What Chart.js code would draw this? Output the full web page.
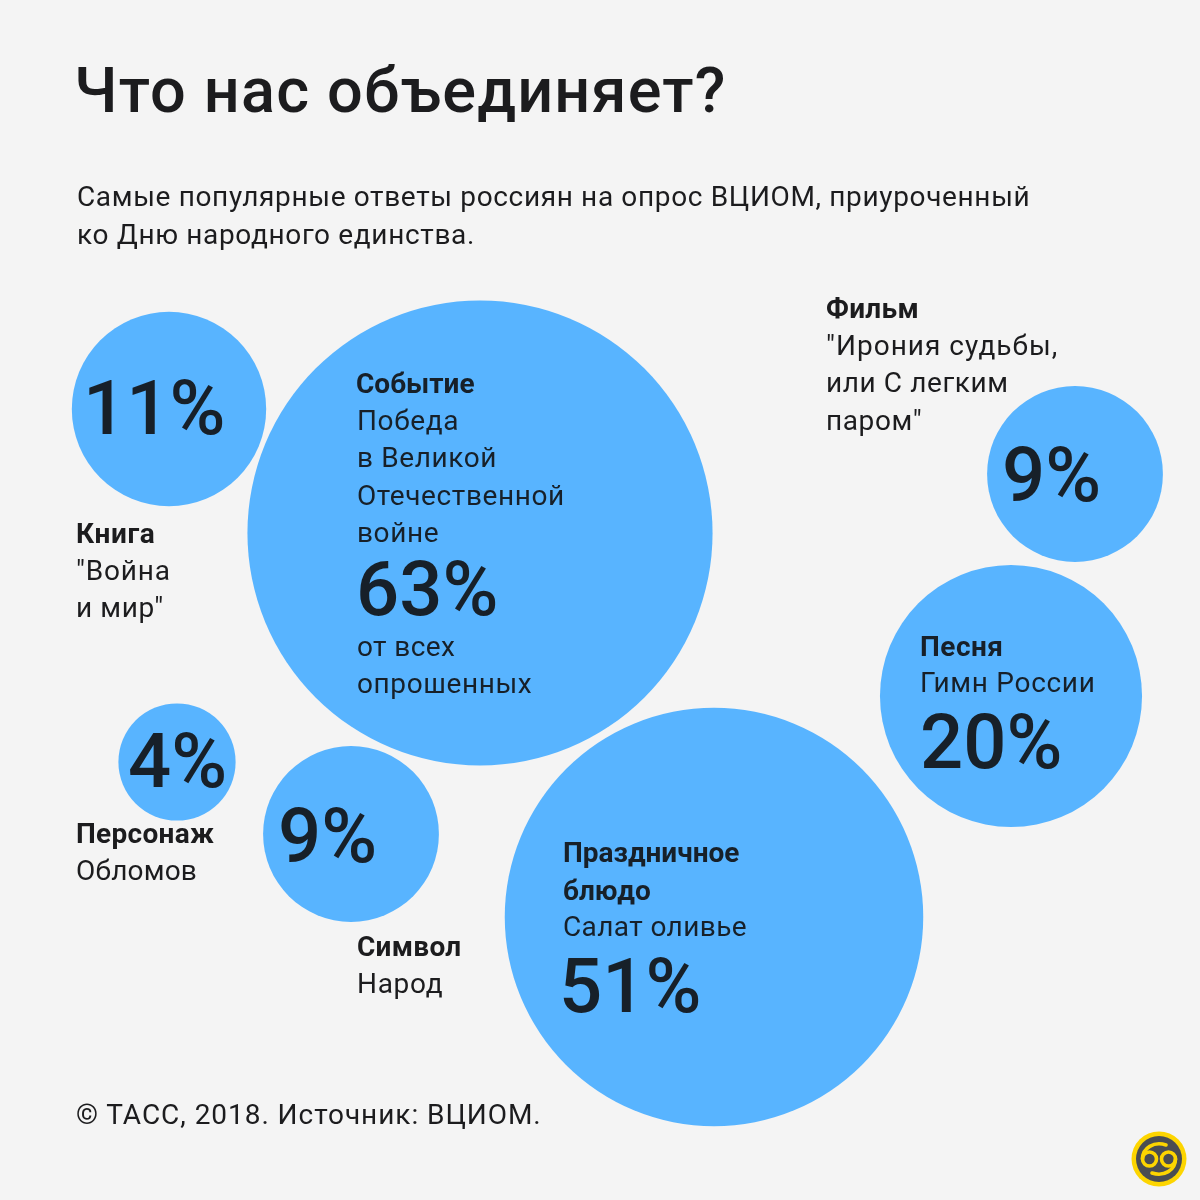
<!DOCTYPE html>
<html lang="ru">
<head>
<meta charset="utf-8">
<title>Что нас объединяет?</title>
<script src="https://cdn.jsdelivr.net/npm/chart.js@4"></script>
<style>
  html, body { margin: 0; padding: 0; background: #f4f4f4; }
  #wrap { position: relative; width: 1200px; height: 1200px; overflow: hidden; }
  #chart { position: absolute; left: 0; top: 0; }
  .t { position: absolute; white-space: pre; line-height: 0; color: #172029; font-family: Roboto, sans-serif; }
  #logo { position: absolute; left: 1130px; top: 1130px; }
</style>
</head>
<body>
<div id="wrap">
  <canvas id="chart" width="1200" height="1200"></canvas>
  <svg id="logo" width="58" height="58" viewBox="0 0 58 58">
    <circle cx="29" cy="29" r="27.5" fill="#fdd500"/>
    <circle cx="29" cy="29" r="23" fill="#4a4d52"/>
    <g fill="none" stroke="#fdd500" stroke-width="3.6" stroke-linecap="round">
      <circle cx="19.5" cy="29" r="7"/>
      <circle cx="38.5" cy="29" r="7"/>
      <path d="M12.5 29 C12.5 18 24 11 36 15"/>
      <path d="M45.5 29 C45.5 40 34 47 22 43"/>
    </g>
  </svg>
</div>
<script>
// categories and answers from the poll
const categories = ["Событие", "Блюдо", "Песня", "Книга", "Фильм", "Символ", "Персонаж"];
const values = [63, 51, 20, 11, 9, 9, 4];

// where each bubble sits on the 0-1200 page axes
const bubbleX = [480, 714, 1011, 169, 1075, 351, 177];
const bubbleY = [533, 917, 696, 409, 474, 834, 762];

const percentLabels = values.map(v => v + "%");

const BUBBLE_COLOR = "#58b4ff";
const AREA_K = 29.3; // radius grows with sqrt of the percent

const points = values.map((v, i) => ({
  x: bubbleX[i],
  y: bubbleY[i],
  r: Math.sqrt(v) * AREA_K
}));

new Chart(document.getElementById("chart"), {
  type: "bubble",
  data: {
    labels: categories,
    datasets: [{
      data: points,
      backgroundColor: BUBBLE_COLOR,
      hoverBackgroundColor: BUBBLE_COLOR,
      borderWidth: 0,
      hoverBorderWidth: 0,
      clip: false
    }]
  },
  options: {
    responsive: false,
    animation: false,
    events: [],
    layout: { padding: 0, autoPadding: false },
    plugins: { legend: { display: false }, tooltip: { enabled: false } },
    scales: {
      x: { type: "linear", min: 0, max: 1200, display: false },
      y: { type: "linear", min: 0, max: 1200, reverse: true, display: false }
    }
  }
});

const INK = "#1c1c1e"; // text outside the bubbles is closer to black

// text, x, baseline, size, weight, letter spacing, colour
const texts = [
  ["Что нас объединяет?", 74, 113, 63, 500, 1.2, INK],
  ["Самые популярные ответы россиян на опрос ВЦИОМ, приуроченный", 77, 207, 28, 400, 0.65, INK],
  ["ко Дню народного единства.", 77, 245, 28, 400, 0.65, INK],

  [percentLabels[3], 83, 434, 76, 500, 0],
  ["Книга", 76, 544, 28, 700, 0.6, INK],
  ["\"Война", 76, 581, 28, 400, 0.8, INK],
  ["и мир\"", 76, 618, 28, 400, 0.6, INK],

  ["Событие", 356, 394, 28, 700, 0],
  ["Победа", 357, 431, 28, 400, 0.6],
  ["в Великой", 357, 468, 28, 400, 0.6],
  ["Отечественной", 357, 506, 28, 400, 0.6],
  ["войне", 357, 543, 28, 400, 0.6],
  [percentLabels[0], 356, 615, 76, 500, 0],
  ["от всех", 357, 657, 28, 400, 0.4],
  ["опрошенных", 357, 694, 28, 400, 0.6],

  ["Фильм", 826, 319, 28, 700, 0.3, INK],
  ["\"Ирония судьбы,", 826, 356, 28, 400, 1, INK],
  ["или С легким", 826, 393, 28, 400, 0.6, INK],
  ["паром\"", 826, 431, 28, 400, 0.6, INK],
  [percentLabels[4], 1002, 501, 76, 500, 0],

  ["Песня", 920, 657, 28, 700, 0.5],
  ["Гимн России", 920, 693, 28, 400, 0.7],
  [percentLabels[2], 920, 768, 76, 500, 0],

  [percentLabels[6], 128, 787, 76, 500, 0],
  ["Персонаж", 76, 844, 28, 700, 0.3, INK],
  ["Обломов", 76, 881, 28, 400, 0.2, INK],

  [percentLabels[5], 278, 862, 76, 500, 0],
  ["Символ", 357, 957, 28, 700, 0.3, INK],
  ["Народ", 357, 994, 28, 400, 0.7, INK],

  ["Праздничное", 563, 863, 28, 700, 0],
  ["блюдо", 563, 901, 28, 700, 0],
  ["Салат оливье", 563, 937, 28, 400, 0.4],
  [percentLabels[1], 559, 1012, 76, 500, 0],

  ["© ТАСС, 2018. Источник: ВЦИОМ.", 76, 1125, 28, 400, 0.95, INK]
];

const wrap = document.getElementById("wrap");
texts.forEach(([str, x, base, size, weight, spacing, color]) => {
  const el = document.createElement("div");
  el.className = "t";
  el.textContent = str;
  el.style.left = x + "px";
  // with line-height 0 the Roboto baseline lands 0.3415em under the box top
  el.style.top = (base - 0.3415 * size) + "px";
  el.style.fontSize = size + "px";
  el.style.fontWeight = weight;
  el.style.letterSpacing = spacing + "px";
  if (color) el.style.color = color;
  wrap.appendChild(el);
});
</script>
</body>
</html>
